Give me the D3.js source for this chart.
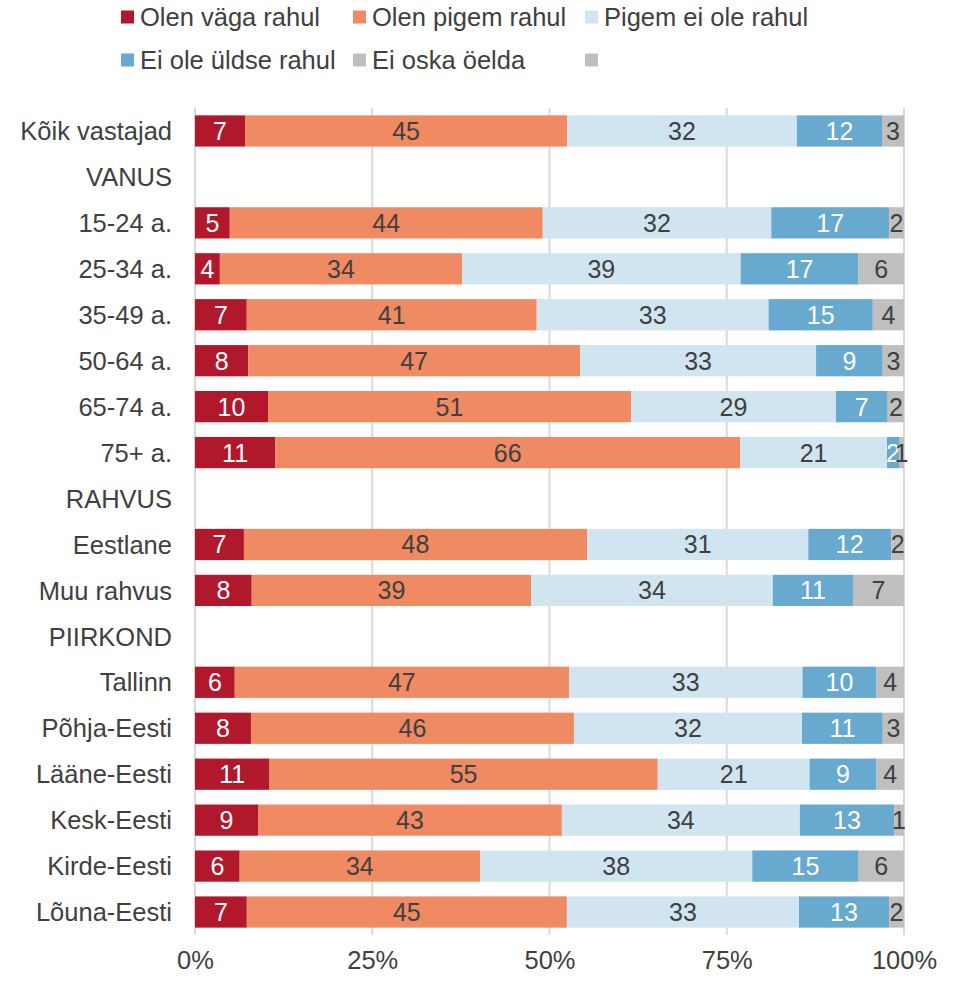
<!DOCTYPE html>
<html><head><meta charset="utf-8">
<script src="https://cdn.jsdelivr.net/npm/d3@7"></script>
<style>body{margin:0;background:#fff}svg{display:block}text{font-family:"Liberation Sans",Arial,sans-serif}</style>
</head><body>
<script>
const categories = ["Kõik vastajad","VANUS","15-24 a.","25-34 a.","35-49 a.","50-64 a.","65-74 a.","75+ a.","RAHVUS","Eestlane","Muu rahvus","PIIRKOND","Tallinn","Põhja-Eesti","Lääne-Eesti","Kesk-Eesti","Kirde-Eesti","Lõuna-Eesti"];
const seriesNames = ["Olen väga rahul","Olen pigem rahul","Pigem ei ole rahul","Ei ole üldse rahul","Ei oska öelda",""];
const vagaRahul   = [7.05,null,4.9,3.5,7.3,7.5,10.3,11.3,null,6.9,8.0,null,5.6,7.9,10.5,8.9,6.3,7.3];
const pigemRahul  = [45.4,null,44.1,34.1,40.9,46.8,51.2,65.6,null,48.4,39.4,null,47.1,45.6,54.7,42.9,33.9,45.1];
const pigemEi     = [32.4,null,32.2,39.2,32.7,33.3,28.9,20.7,null,31.2,34.1,null,32.9,32.2,21.4,33.6,38.4,32.7];
const uldseEi     = [12.0,null,16.6,16.6,14.7,9.4,7.3,1.7,null,11.7,11.3,null,10.4,11.4,9.4,13.3,15.0,12.7];
const eiOska      = [3.1,null,2.1,6.4,4.4,3.0,2.3,0.7,null,1.8,7.2,null,3.9,3.0,3.9,1.4,6.4,2.1];
const tickValues = [0,0.25,0.5,0.75,1];

const colors = ["#b2182b","#ef8a62","#d1e5f0","#67a9cf","#bfbfbf","#bfbfbf"];
const labelColors = ["#ffffff","#404040","#404040","#ffffff","#404040"];
const seriesData = [vagaRahul,pigemRahul,pigemEi,uldseEi,eiOska];
const FS=25, AFS=25.5, LFS=25.5;

const W=955,H=981;
const svg=d3.select("body").append("svg").attr("width",W).attr("height",H);
const x=d3.scaleLinear().domain([0,1]).range([195,904]);
const y=d3.scaleBand().domain(categories).range([108,935]).paddingInner(0.32).paddingOuter(0.16);

svg.append("g").selectAll("line").data(tickValues).join("line")
  .attr("x1",d=>x(d)).attr("x2",d=>x(d)).attr("y1",108).attr("y2",935)
  .attr("stroke","#d9d9d9").attr("stroke-width",2);

const rows=categories.map((c,i)=>{
  const vals=seriesData.map(s=>s[i]);
  if(vals[0]==null) return {c,segs:[]};
  const tot=d3.sum(vals);let acc=0;
  const segs=vals.map((v,k)=>{const s={k,v,x0:acc/tot,x1:(acc+v)/tot};acc+=v;return s;});
  return {c,segs};
});
const g=svg.append("g");
rows.forEach(r=>{
  r.segs.forEach(s=>{
    g.append("rect").attr("x",x(s.x0)).attr("width",x(s.x1)-x(s.x0))
      .attr("y",y(r.c)).attr("height",y.bandwidth()).attr("fill",colors[s.k]);
  });
  r.segs.forEach(s=>{
    g.append("text").attr("x",(x(s.x0)+x(s.x1))/2).attr("y",y(r.c)+y.bandwidth()/2)
      .attr("dy","0.36em").attr("text-anchor","middle").attr("font-size",FS)
      .attr("fill",labelColors[s.k]).text(Math.round(s.v));
  });
});

const yAxis=d3.axisLeft(y).tickSize(0).tickPadding(0);
const ya=svg.append("g").attr("transform","translate(172,0)").call(yAxis);
ya.select(".domain").remove();
ya.selectAll("text").attr("font-size",AFS).attr("fill","#404040").attr("dy","0.36em")
  .style("font-family",'"Liberation Sans",Arial,sans-serif');

const xAxis=d3.axisBottom(x).tickValues(tickValues).tickFormat(d3.format(".0%")).tickSize(0).tickPadding(0);
const xa=svg.append("g").attr("transform","translate(0,960)").call(xAxis);
xa.select(".domain").remove();
xa.selectAll("text").attr("font-size",AFS).attr("fill","#404040").attr("dy","0.36em")
  .style("font-family",'"Liberation Sans",Arial,sans-serif');

const legPos=[[121,17],[353,17],[585,17],[121,60],[353,60],[585,60]];
const lg=svg.append("g");
seriesNames.forEach((n,i)=>{
  const [lx,ly]=legPos[i];
  lg.append("rect").attr("x",lx).attr("y",ly-6.5).attr("width",13).attr("height",13).attr("fill",colors[i]);
  lg.append("text").attr("x",lx+19).attr("y",ly).attr("dy","0.36em").attr("font-size",LFS).attr("fill","#404040").text(n);
});
</script>
</body></html>
